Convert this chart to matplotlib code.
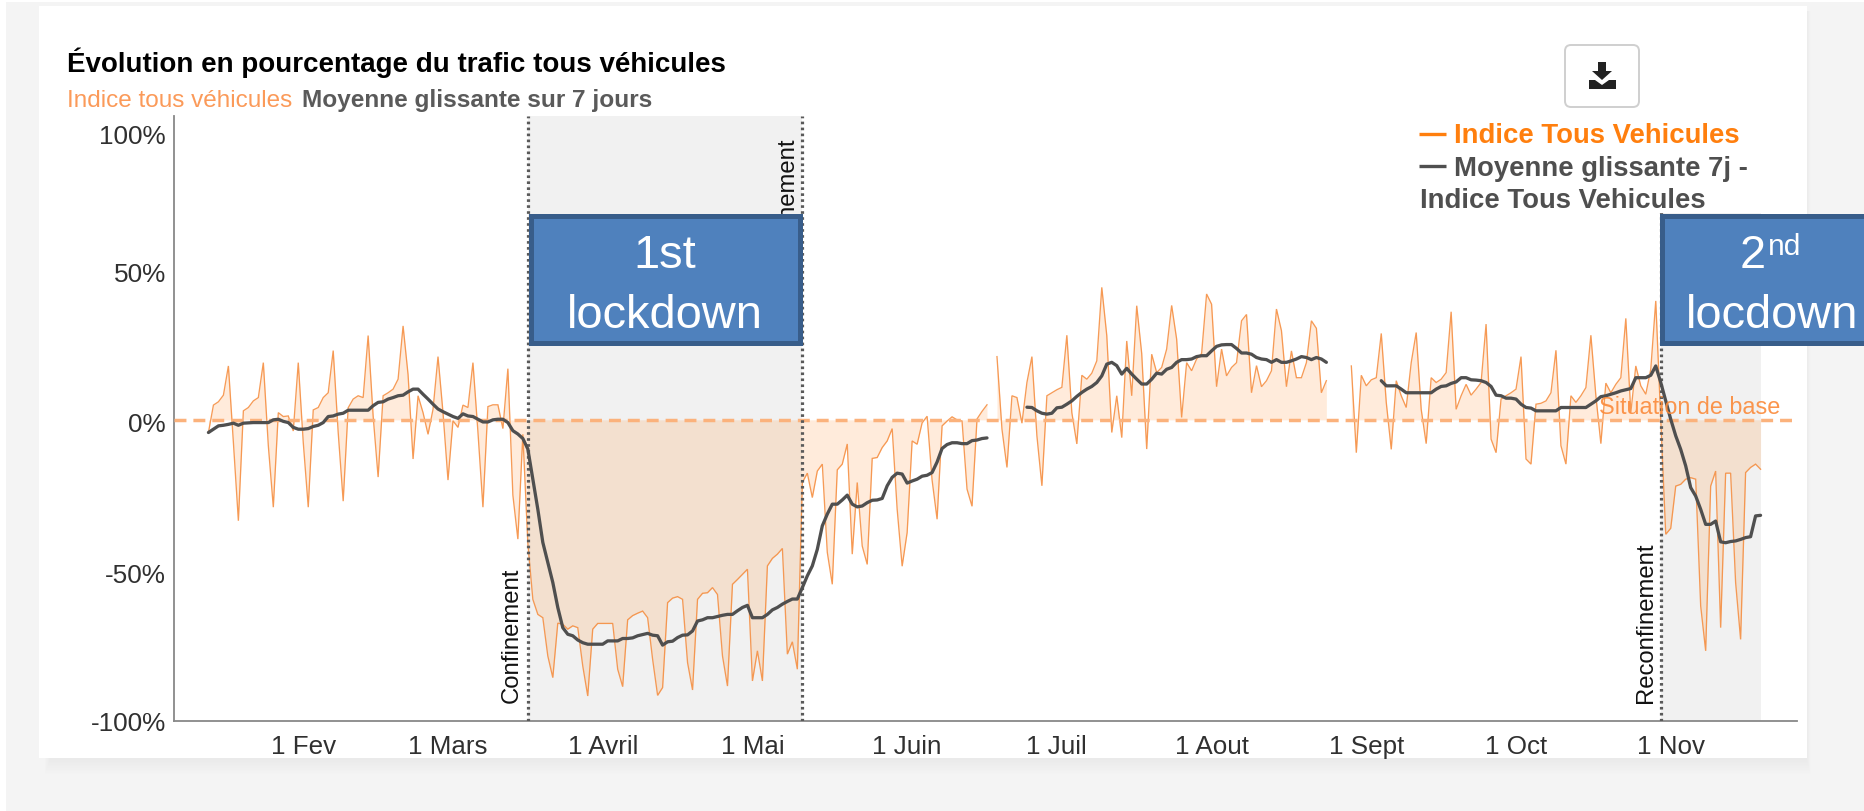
import numpy as np
import pandas as pd
import matplotlib
matplotlib.use("Agg")
import matplotlib.pyplot as plt
from matplotlib.patches import Rectangle, FancyBboxPatch, Polygon
from matplotlib.transforms import ScaledTranslation

plt.rcParams['font.family'] = ['Liberation Sans', 'DejaVu Sans']
plt.rcParams['lines.scale_dashes'] = False

# ------------------ data ------------------
index_start_1 = "2020-01-13"
index_seg_1 = [
    -4.2, 4.9, 6, 8.2, 17.9, -7.5, -33.5, 3, 4.1, 6.3, 7.4, 19, -8.6, -29, 2.4, 1.1, 1.3, -3.7, 19, -7.5, -29,
    3.3, 4.1, 7.4, 9, 23, -4.2, -27, 4, 6.9, 8, 7.4, 28, 1.3, -19, 8, 9, 10.2, 13.5, 31.2, 15, -13,
    8, 2.4, -4.8, 3.5, 21, 2.4, -20, -0.3, -2.5, 4.9, 4.1, 19, -4, -29, 4.4, 5, 5, -2.9, 17, -25, -39.6, -4.8,
    -41, -59.6, -64.6, -65.7, -78.4, -85.6, -67.5, -67.9, -69.5, -68.4, -69, -81.7, -91.7, -69.5, -67.6, -67.6,
    -67.6, -67.6, -82.8, -88.6, -66.4, -65, -64.2, -63.5, -65.7, -79.5, -91.5, -88.9, -60.7, -59.2, -58.7, -59.6,
    -80.6, -89.7, -59.6, -57.6, -57.4, -55.7, -58, -78.4, -88.4, -54.6, -53, -51.3, -49.6, -86.7, -76.7, -86.7,
    -48.5, -46, -44.6, -42.7, -77.8, -73.7, -82.8, -20.8, -17.7, -25.8, -17, -14.7, -44, -54.6, -16.6, -14.7,
    -8, -44.6, -20.8, -41.9, -48, -12.8, -12.5, -9.2, -7, -2.9, -29.7, -48.6, -37.4, -7, -8.1,
    -1, 1.2, -20, -33, -2, -0.4, 1, 0, -0.4, -23, -28.7, 0.3, 2.8, 5,
]
index_start_2 = "2020-06-19"
index_seg_2 = [
    21, -3.1, -15.8, 8, 7.4, -1.1, 12.4, 21, -5.3, -21.9, 8, 9, 10, 10.8, 28.1, 2.4, -8, 14.8, 13.5, 15.5, 19.6,
    44, 28, -4.2, 8, -5.9, 26.2, 8, 37.9, 22, -9.7, 21.8, 15.7, 17.4, 23.5, 38, 26.8, 0.8, 19, 16.3, 20.2, 22,
    41.8, 38.4, 11, 23.5, 14.6, 17.4, 19, 32.9, 35, 9, 18, 11, 13, 16.3, 36.8, 29.6, 11, 22.9, 14, 14, 19, 32.9,
    30.4, 9, 13,
]
index_start_3 = "2020-08-29"
index_seg_3 = [
    17.9, -10.9, 14.8, 11.3, 13.3, 14, 28.7, 5.8, -9.8, 13, 8, 4.1, 19, 29, 3.5, -7.9, 14, 12.4, 13.5, 15.7, 35.9,
    3.5, 8, 11.8, 8.2, 10.2, 12.4, 31.8, -6.4, -10.9, 6.9, 8, 9, 10.2, 21, -13, -14.7, 5.2, 5.5, 6.3, 9, 23.1,
    -8.6, -14.7, 8, 5.8, 8, 10.7, 28.1, 8, -7.9, 12.2, 9, 11.8, 14, 33.7, 2.4, 17.9, 11.3, 8.5, 16.8, 39.5, 0,
    -38, -36, -22, -21.4, -19.7, -19.2, -19.7, -61.8, -76.7, -22, -17, -69, -17.7, -17.7, -54, -72.9, -17.5,
    -15.8, -14.7, -16.4,
]
mean_start_1 = "2020-01-13"
mean_seg_1 = [
    -4.2, -3.1, -2, -1.8, -1.5, -1.1, -1.8, -1.1, -1, -0.9, -0.9, -0.9, -0.9, 0, 0.2, -0.5, -0.9, -2.5, -3.1, -3.1,
    -2.9, -2.2, -1.8, -0.9, 1.1, 1.3, 1.9, 2.2, 3.2, 3.2, 3.2, 3.2, 3.2, 4.7, 5.8, 6, 6.9, 7.4, 8, 8.2, 9.3, 10.2,
    10.2, 8.5, 6.9, 5.2, 3.6, 2.7, 1.9, 1.1, 0.5, 2, 1.3, 1.1, 0.2, -0.7, -0.7, 0, 0.2, 0.2, -0.9, -3.6, -4.7, -6.2,
    -9.7, -19.7, -29.7, -40.7, -47.4, -54, -62.3, -69, -71.2, -71.7, -73.1, -74, -74.5, -74.5, -74.5, -74.5, -73.4,
    -73.4, -73.4, -72.6, -72.6, -72.4, -71.7, -71.3, -70.9, -71.5, -71.7, -74.8, -73.7, -73.5, -72.3, -71.5, -71.4,
    -70.1, -66.8, -66.4, -65.7, -65.7, -65.3, -64.9, -64.6, -64.6, -63.4, -62.3, -61.6, -65.7, -65.7, -65.7, -64.6,
    -63.1, -62.3, -61.2, -60.3, -59.5, -59.5, -55.7, -51.8, -48.5, -43, -35.2, -31.3, -28, -28, -26.6, -25, -28,
    -28.9, -28.6, -27.5, -26.7, -26.6, -26.1, -21.9, -19.1, -17.7, -18, -21, -20.3, -19.7,
    -18.7, -18.4, -17.5, -14, -9.5, -8.2, -7.6, -7.6, -7.9, -7.9, -6.9, -6.7, -6.2, -6,
]
mean_start_2 = "2020-06-25"
mean_seg_2 = [
    4.2, 4.1, 3, 2.2, 1.9, 2.2, 4, 4.2, 5.2, 6.3, 7.8, 9.1, 10.2, 11.1, 12.4, 14.6, 18.5, 19.1, 18, 15.2, 17.1, 15.2,
    13.5, 11.9, 11.9, 13.5, 15.5, 15.2, 16.8, 17.4, 19.1, 20, 20, 20.2, 21, 21.3, 21.3, 22.9, 24.4, 24.9, 25, 25,
    23.7, 22.2, 22.2, 21.8, 20.7, 20.2, 20, 19.1, 20, 19.1, 19.1, 19.6, 20.2, 21, 20.7, 20, 20.7, 20.2, 19.1,
]
mean_start_3 = "2020-09-04"
mean_seg_3 = [
    13, 11.3, 11.3, 11.3, 10.2, 9, 9, 9, 9, 9, 9, 10.2, 11.1, 11.3, 12.1, 12.6, 14, 14, 13.3, 13.2, 13, 12.4, 11.1,
    8.2, 8, 7.2, 7.2, 6.9, 5.2, 4.1, 3.9, 3, 3, 3, 3, 3, 4.1, 4.1, 4.1, 4.1, 4.1, 4.1, 5.2, 6.3, 7.7, 8, 8.5, 9, 9.6,
    10, 10.4, 14, 14, 14, 14.8, 17.9, 12.4, 6.3, 0.2, -5.3, -9.8, -15.3, -22.5, -25.3, -29.7, -34.7, -34.7, -33.6,
    -40.5, -40.8, -40.4, -40.2, -39.7, -39.1, -38.8, -31.9, -31.7,
]
tick_dates = ["2020-02-01", "2020-03-01", "2020-04-01", "2020-05-01", "2020-06-01",
              "2020-07-01", "2020-08-01", "2020-09-01", "2020-10-01", "2020-11-01"]
tick_labels = ["1 Fev", "1 Mars", "1 Avril", "1 Mai", "1 Juin", "1 Juil", "1 Aout", "1 Sept", "1 Oct", "1 Nov"]
y_ticks = [-100, -50, 0, 50, 100]
y_labels = ["-100%", "-50%", "0%", "50%", "100%"]
confinement = "2020-03-17"
deconfinement = "2020-05-11"
reconfinement = "2020-10-30"
period_end = "2020-11-19"

ORANGE = "#f58a3a"
DARK = "#4f4f4f"
W, H = 1864, 812
fig = plt.figure(figsize=(W / 100, H / 100), dpi=100, facecolor="white")


def full_axes(z):
    a = fig.add_axes([0, 0, 1, 1], zorder=z)
    a.set_xlim(0, W)
    a.set_ylim(H, 0)
    a.axis("off")
    a.patch.set_alpha(0)
    return a


# ------------------ page and card ------------------
bg = full_axes(0)
bg.add_patch(Rectangle((6, 3), W, H, fc="#f4f4f4", ec="none"))
for k in range(10):
    bg.add_patch(Rectangle((50 - k * 0.6, 12), 1807 - 50 + k * 1.0, 759 - 12 + 2 + k * 1.6,
                           fc="black", alpha=0.005, ec="none"))
bg.add_patch(Rectangle((39, 7), 1807 - 39, 759 - 7, fc="white", ec="none"))

# ------------------ chart ------------------
ax = fig.add_axes([173.5 / W, 1 - 722 / H, (1797 - 173.5) / W, (722 - 117) / H], zorder=1)
ax.patch.set_alpha(0)
day0 = pd.Timestamp("2020-01-01")
ax.set_xlim(day0 + pd.Timedelta(days=5), day0 + pd.Timedelta(days=330.3))
ax.set_ylim(-100, 100.9)

ax.axvspan(pd.Timestamp(confinement), pd.Timestamp(deconfinement), color="#f1f1f1", lw=0, zorder=1)
ax.axvspan(pd.Timestamp(reconfinement), pd.Timestamp(period_end), color="#f1f1f1", lw=0, zorder=1)

for start, vals in [(index_start_1, index_seg_1), (index_start_2, index_seg_2), (index_start_3, index_seg_3)]:
    d = pd.date_range(start, periods=len(vals))
    ax.fill_between(d, vals, 0, color="#ff7f0e", alpha=0.15, lw=0, zorder=2)
    ax.plot(d, vals, color=ORANGE, lw=0.95, alpha=0.85, zorder=3, solid_joinstyle="miter")

ax.axhline(0, color="#fbb27c", lw=2.5, dashes=(8.6, 5), dash_capstyle="butt", zorder=3)

for s in [confinement, deconfinement, reconfinement]:
    ax.axvline(pd.Timestamp(s), color="#5a5a5a", lw=2.3, dashes=(1.9, 2.4), zorder=4)

for start, vals in [(mean_start_1, mean_seg_1), (mean_start_2, mean_seg_2), (mean_start_3, mean_seg_3)]:
    ax.plot(pd.date_range(start, periods=len(vals)), vals, color=DARK, lw=2.35, zorder=5, solid_capstyle="round")

for side in ["top", "right"]:
    ax.spines[side].set_visible(False)
for side in ["left", "bottom"]:
    ax.spines[side].set_color("#888888")
    ax.spines[side].set_linewidth(1.3)

ax.set_xticks(pd.to_datetime(tick_dates))
ax.set_xticklabels(tick_labels, fontsize=18.7, color="#303030")
ax.set_yticks(y_ticks)
ax.set_yticklabels(y_labels, fontsize=18.8, color="#303030")
ax.tick_params(axis="both", length=0)
ax.tick_params(axis="x", pad=9.6)
ax.tick_params(axis="y", pad=5.5)
shifts = [0, 2, 2, 2, 15]
for lab, sh in zip(ax.get_yticklabels(), shifts):
    lab.set_transform(lab.get_transform() + ScaledTranslation(0, -sh / 100, fig.dpi_scale_trans))

# ------------------ overlay ------------------
ov = full_axes(5)
# the legend's white ground hides the chart behind it
ov.add_patch(Rectangle((1410, 110), 397, 104, fc="white", ec="none", zorder=1))
ov.text(67, 63, "Évolution en pourcentage du trafic tous véhicules", fontsize=20.0, fontweight="bold",
        color="black", va="center", ha="left", zorder=3)
ov.text(67, 101, "Indice tous véhicules", fontsize=17.5, color="#fb9a59", va="center", ha="left", zorder=3)
ov.text(302, 101, "Moyenne glissante sur 7 jours", fontsize=17.6, fontweight="bold", color="#5a5a5a",
        va="center", ha="left", zorder=3)

ov.text(512, 703, "Confinement", rotation=90, fontsize=17.2, color="#111111", ha="center", va="bottom", zorder=3)
ov.text(787, 137, "Déconfinement", rotation=90, fontsize=17.2, color="#111111", ha="center", va="top", zorder=3)
ov.text(1646, 703, "Reconfinement", rotation=90, fontsize=17.2, color="#111111", ha="center", va="bottom", zorder=3)
ov.text(1599, 408, "Situation de base", fontsize=16.8, color="#fb8a3a", alpha=0.9, ha="left", va="center", zorder=3)

# download button
ov.add_patch(FancyBboxPatch((1570, 51), 64, 52, boxstyle="round,pad=5,rounding_size=6", fc="white",
                            ec="#cfcfcf", lw=1.4, zorder=3))
ov.add_patch(Polygon([(1598, 63), (1606, 63), (1606, 72), (1612, 72), (1602, 81), (1592, 72), (1598, 72)],
                     fc="#222222", ec="none", zorder=4))
ov.add_patch(Polygon([(1589, 81), (1595, 81), (1602, 86), (1609, 81), (1616, 81), (1616, 90), (1589, 90)],
                     fc="#222222", ec="none", zorder=4))

# legend
ov.plot([1419, 1446], [135, 135], color="#ff7f0e", lw=2.4, solid_capstyle="butt", zorder=3)
ov.text(1454, 136, "Indice Tous Vehicules", fontsize=19.8, fontweight="bold", color="#ff7f0e", va="center", zorder=3)
ov.plot([1419, 1446], [167, 167], color=DARK, lw=2.4, solid_capstyle="butt", zorder=3)
ov.text(1454, 169, "Moyenne glissante 7j -", fontsize=19.8, fontweight="bold", color=DARK, va="center", zorder=3)
ov.text(1420, 201, "Indice Tous Vehicules", fontsize=19.8, fontweight="bold", color=DARK, va="center", zorder=3)

# callouts
for x0, x1 in [(530.5, 800), (1661.5, 1880)]:
    ov.add_patch(Rectangle((x0, 216.5), x1 - x0, 127, fc="#4f81bd", ec="#385d8a", lw=3.6, zorder=6))
ov.text(665, 256, "1st", fontsize=33.8, color="white", ha="center", va="center", zorder=7)
ov.text(665, 316, "lockdown", fontsize=33.8, color="white", ha="center", va="center", zorder=7)
ov.text(1753, 256, "2", fontsize=33.8, color="white", ha="center", va="center", zorder=7)
ov.text(1785, 247, "nd", fontsize=21.6, color="white", ha="center", va="center", zorder=7)
ov.text(1772, 316, "locdown", fontsize=33.8, color="white", ha="center", va="center", zorder=7)

fig.savefig("out.png", dpi=100)
